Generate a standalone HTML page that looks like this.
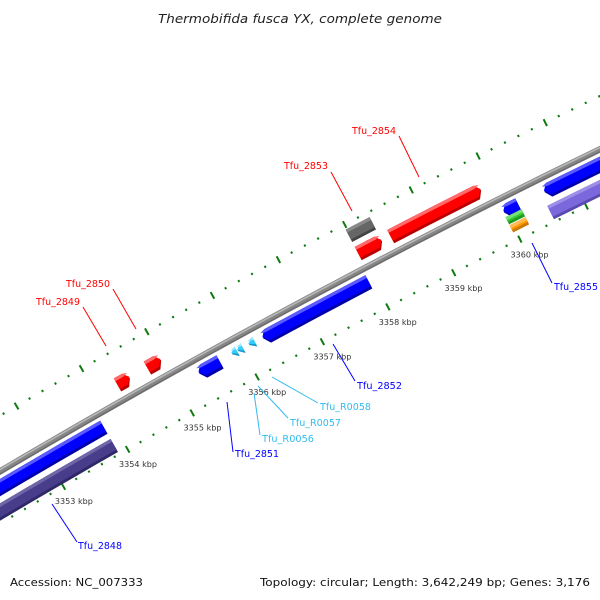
<!DOCTYPE html>
<html><head><meta charset="utf-8">
<style>
html,body{margin:0;padding:0;background:#fff;width:600px;height:600px;overflow:hidden;}
svg{display:block;overflow:hidden;font-family:"DejaVu Sans","Liberation Sans",sans-serif;}
</style></head>
<body>
<svg id="map" width="600" height="600" viewBox="0 0 600 600" xmlns="http://www.w3.org/2000/svg">
<defs><clipPath id="frame"><rect x="0" y="0" width="600" height="600"/></clipPath></defs>
<rect x="0" y="0" width="600" height="600" fill="#fff"/>
<text x="300" y="23" text-anchor="middle" font-size="12.5" font-style="italic" fill="#222" textLength="284" lengthAdjust="spacingAndGlyphs">Thermobifida fusca YX, complete genome</text>
<g clip-path="url(#frame)">
<g id="ticks"></g>
<g id="backbone"></g>
<g id="feats"></g>
</g>
<g id="labels">
<g><line x1="83" y1="307" x2="106" y2="346" stroke="#ff0000" stroke-width="1"/><text x="36" y="305" font-size="9.5" fill="#ff0000" textLength="44" lengthAdjust="spacingAndGlyphs">Tfu_2849</text></g>
<g><line x1="113" y1="289" x2="136" y2="329" stroke="#ff0000" stroke-width="1"/><text x="66" y="287" font-size="9.5" fill="#ff0000" textLength="44" lengthAdjust="spacingAndGlyphs">Tfu_2850</text></g>
<g><line x1="331" y1="172" x2="352" y2="211" stroke="#ff0000" stroke-width="1"/><text x="284" y="169" font-size="9.5" fill="#ff0000" textLength="44" lengthAdjust="spacingAndGlyphs">Tfu_2853</text></g>
<g><line x1="399" y1="136" x2="419" y2="177" stroke="#ff0000" stroke-width="1"/><text x="352" y="134" font-size="9.5" fill="#ff0000" textLength="44" lengthAdjust="spacingAndGlyphs">Tfu_2854</text></g>
<g><line x1="532" y1="243" x2="552" y2="283" stroke="#0000ff" stroke-width="1"/><text x="554" y="290" font-size="9.5" fill="#0000ff" textLength="44" lengthAdjust="spacingAndGlyphs">Tfu_2855</text></g>
<g><line x1="52" y1="504" x2="77" y2="542" stroke="#0000ff" stroke-width="1"/><text x="78" y="549" font-size="9.5" fill="#0000ff" textLength="44" lengthAdjust="spacingAndGlyphs">Tfu_2848</text></g>
<g><line x1="227" y1="402" x2="233" y2="452" stroke="#0000ff" stroke-width="1"/><text x="235" y="457" font-size="9.5" fill="#0000ff" textLength="44" lengthAdjust="spacingAndGlyphs">Tfu_2851</text></g>
<g><line x1="333" y1="344" x2="355" y2="381" stroke="#0000ff" stroke-width="1"/><text x="357" y="389" font-size="9.5" fill="#0000ff" textLength="45" lengthAdjust="spacingAndGlyphs">Tfu_2852</text></g>
<g><line x1="254" y1="393" x2="260" y2="435" stroke="#33bbee" stroke-width="1"/><text x="262" y="442" font-size="9.5" fill="#33bbee" textLength="52" lengthAdjust="spacingAndGlyphs">Tfu_R0056</text></g>
<g><line x1="258" y1="386" x2="288" y2="418" stroke="#33bbee" stroke-width="1"/><text x="290" y="426" font-size="9.5" fill="#33bbee" textLength="51" lengthAdjust="spacingAndGlyphs">Tfu_R0057</text></g>
<g><line x1="272" y1="377" x2="318" y2="403" stroke="#33bbee" stroke-width="1"/><text x="320" y="410" font-size="9.5" fill="#33bbee" textLength="51" lengthAdjust="spacingAndGlyphs">Tfu_R0058</text></g>
</g>
<text x="10" y="586" font-size="11" fill="#111" textLength="133" lengthAdjust="spacingAndGlyphs">Accession: NC_007333</text>
<text x="590" y="586" text-anchor="end" font-size="11" fill="#111" textLength="330" lengthAdjust="spacingAndGlyphs">Topology: circular; Length: 3,642,249 bp; Genes: 3,176</text>
</svg>
<script>
// ---- data (kbp positions) ----
const featNames  = ["Tfu_2848","misc_left","Tfu_2849","Tfu_2850","Tfu_2851","Tfu_R0056","Tfu_R0057","Tfu_R0058","Tfu_2852","other_2853","Tfu_2853","Tfu_2854","Tfu_2855","green_2855","orange_2855","Tfu_2856","misc_right"];
const featStart  = [3350.5, 3350.5, 3354.31, 3354.77, 3355.34, 3355.85, 3355.94, 3356.11, 3356.32, 3357.98, 3357.98, 3358.47, 3359.97, 3359.96, 3359.96, 3360.58, 3360.53];
const featEnd    = [3353.87,3353.87,3354.50, 3354.98, 3355.66, 3355.93, 3356.02, 3356.20, 3357.93, 3358.34, 3358.34, 3359.83, 3360.19, 3360.20, 3360.20, 3362.8, 3362.8];
const featStrand = [-1, 0, 1, 1, -1, -1, -1, -1, -1, 0, 1, 1, -1, 0, 0, -1, 0];
const featType   = ["cds","cogA","cds","cds","cds","trna","trna","trna","cds","other","cds","cds","cds","green","orange","cds","cogB"];
const tickStartKbp = 3349;
const tickEndKbp = 3364;
const tickLabelKbp = [3353,3354,3355,3356,3357,3358,3359,3360];

// ---- geometry ----
const NS="http://www.w3.org/2000/svg";
const CX=4291, CY=7745, A0=-118.70, DEG_PER_KBP=0.506, REF=3356;
const R_BB=8445, R_UP=8493, R_LO=8400;
function pol(k,r){const a=(A0+(k-REF)*DEG_PER_KBP)*Math.PI/180;return [CX+r*Math.cos(a),CY+r*Math.sin(a)];}
function pxPerKbp(r){return r*DEG_PER_KBP*Math.PI/180;}
function inFrame(p){return p[0]>=0&&p[0]<=600&&p[1]>=0&&p[1]<=600;}
const typeStyle={
 trna:{c:"#33ccff",l:"#99e6ff",d:"#1a99cc",rc:8432,h:5.5},
 other:{c:"#666666",l:"#8a8a8a",d:"#444444",rc:8481,h:7},
 green:{c:"#33cc33",l:"#77e077",d:"#1f991f",rc:8422,h:4},
 orange:{c:"#ff9900",l:"#ffbb55",d:"#cc7700",rc:8413,h:4},
 cogA:{c:"#483d8b",l:"#6f66a8",d:"#2f2866",rc:8410,h:7.5},
 cogB:{c:"#7b68dd",l:"#9d8ee8",d:"#5a4ab0",rc:8410,h:7.5}
};
function styleFor(i){
 const t=featType[i];
 if(t==="cds"){return featStrand[i]>0?{c:"#ff0000",l:"#ff6a6a",d:"#b80000",rc:8461,h:7.5}:{c:"#0000ff",l:"#5a5aff",d:"#0000a8",rc:8431,h:7.5};}
 return typeStyle[t];
}
function arcPts(s,e,r,n){const p=[];for(let j=0;j<=n;j++){p.push(pol(s+(e-s)*j/n,r));}return p;}
function shape(s,e,rc,h,strand,headPx){
 const ro=rc+h, ri=rc-h;
 const hk=Math.min(headPx/pxPerKbp(rc), e-s);
 let pts=[];
 if(strand>0){const be=e-hk;pts=pts.concat(arcPts(s,be,ro,10));pts.push(pol(e,rc));pts=pts.concat(arcPts(be,s,ri,10));}
 else if(strand<0){const bs=s+hk;pts.push(pol(s,rc));pts=pts.concat(arcPts(bs,e,ro,10));pts=pts.concat(arcPts(e,bs,ri,10));}
 else{pts=pts.concat(arcPts(s,e,ro,10));pts=pts.concat(arcPts(e,s,ri,10));}
 return pts.map(p=>p[0].toFixed(2)+","+p[1].toFixed(2)).join(" ");
}

// ---- ruler ticks (every 200 bp, major each kbp) ----
const tg=document.getElementById("ticks");
for(let j=0;j<=(tickEndKbp-tickStartKbp)*5;j++){
 const k=tickStartKbp+j*0.2;
 const major=(j%5===0);
 [R_UP,R_LO].forEach(function(r){
  const len=major?3.8:1.1;
  const a=pol(k,r+len),b=pol(k,r-len);
  if(!inFrame(a)||!inFrame(b))return;
  const ln=document.createElementNS(NS,"line");
  
  
  ln.setAttribute("x1",a[0]);ln.setAttribute("y1",a[1]);ln.setAttribute("x2",b[0]);ln.setAttribute("y2",b[1]);
  ln.setAttribute("stroke","#0f7a0f");ln.setAttribute("stroke-width","2");
  tg.appendChild(ln);
 });
}
tickLabelKbp.forEach(function(k){
 const p=pol(k,R_LO-17);
 const t=document.createElementNS(NS,"text");
 
 
 t.setAttribute("x",p[0]+2);t.setAttribute("y",p[1]+3);
 t.setAttribute("text-anchor","middle");t.setAttribute("font-size","8");t.setAttribute("fill","#333");
 t.setAttribute("textLength","38");t.setAttribute("lengthAdjust","spacingAndGlyphs");
 t.textContent=k+" kbp";
 tg.appendChild(t);
});

// ---- backbone ----
const bg=document.getElementById("backbone");
function arcPath(r){return "M"+arcPts(3350.3,3363.5,r,60).map(p=>p[0].toFixed(2)+","+p[1].toFixed(2)).join(" L");}
[[R_BB,6.5,"#868686"],[R_BB+1.6,1.6,"#b8b8b8"],[R_BB-2.3,1.2,"#6a6a6a"]].forEach(function(d,i){
 const p=document.createElementNS(NS,"path");
 
 
 p.setAttribute("d",arcPath(d[0]));p.setAttribute("fill","none");p.setAttribute("stroke",d[2]);p.setAttribute("stroke-width",d[1]);
 bg.appendChild(p);
});

// ---- features ----
const fg=document.getElementById("feats");
for(let i=0;i<featStart.length;i++){
 const st=styleFor(i);
 const head=featType[i]==="trna"?8:5;
 const g=document.createElementNS(NS,"g");
 
 
 const layers=[[st.rc,st.h,st.d],[st.rc+1.4,st.h-1.4,st.c],[st.rc+st.h-1.6,1.6,st.l]];
 layers.forEach(function(L){
  if(L[1]<=0)return;
  const pg=document.createElementNS(NS,"polygon");
  
  
  pg.setAttribute("points",shape(featStart[i],featEnd[i],L[0],L[1],featStrand[i],head));
  pg.setAttribute("fill",L[2]);
  g.appendChild(pg);
 });
 fg.appendChild(g);
}
</script>
</body></html>
